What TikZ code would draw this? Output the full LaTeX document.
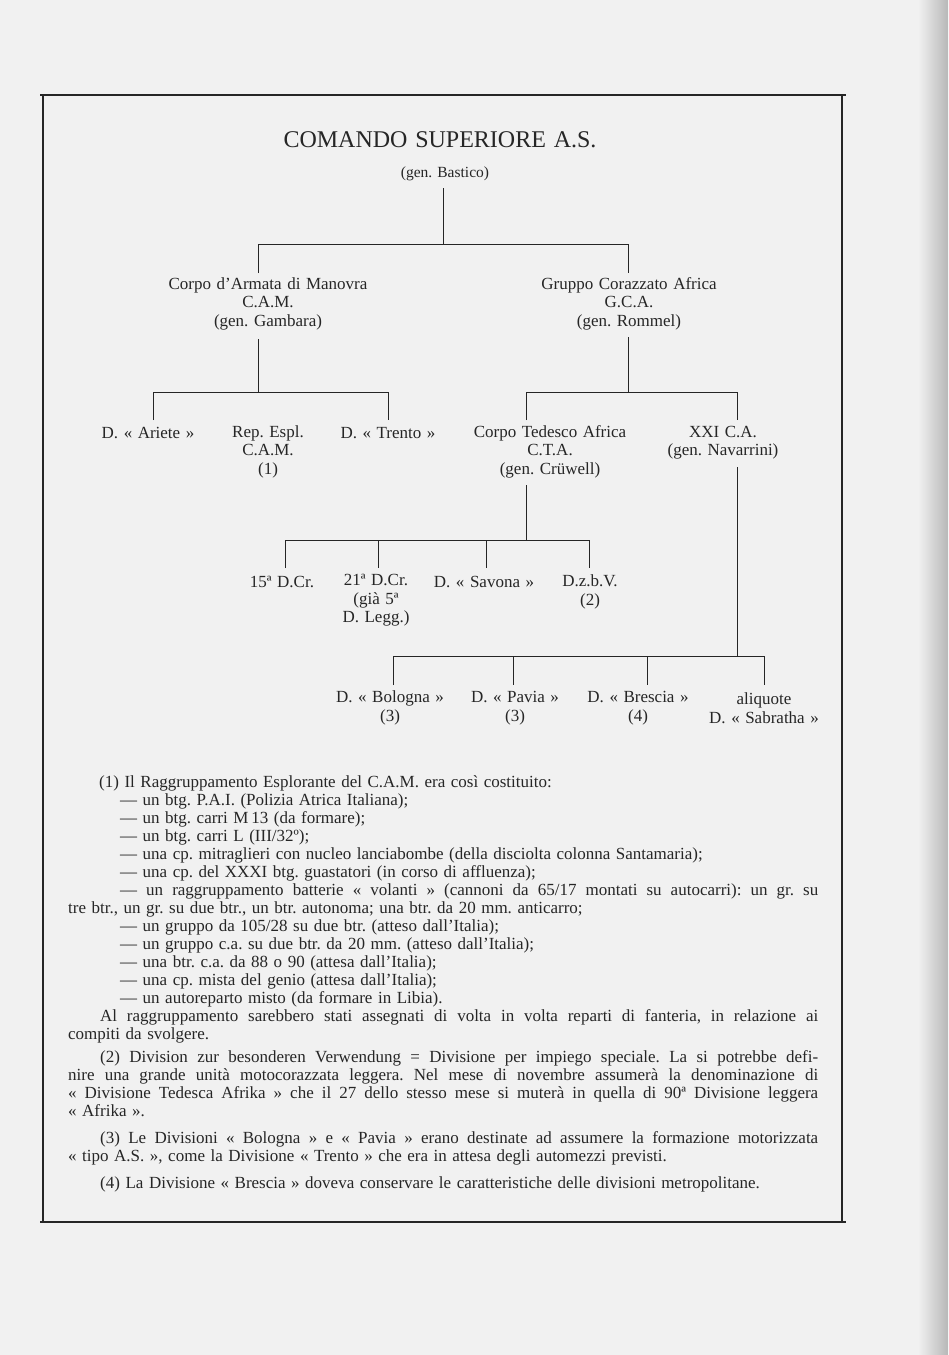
\documentclass[tikz,border=0pt]{standalone}
\usepackage{fontspec}
\setmainfont{Liberation Serif}[WordSpace={1.3,1.6,1.0}]
\definecolor{bg}{RGB}{241,241,241}
\definecolor{ink}{RGB}{38,38,38}
\newcommand\chartfont{\fontsize{17}{18.5}\selectfont}
\newcommand\notefont{\fontsize{17}{18}\selectfont}
\newcommand\titlefont{\fontsize{24}{26}\selectfont}
\newcommand\smallfont{\fontsize{15.5}{17}\selectfont}
\tolerance=10000
\hyphenpenalty=10000
\frenchspacing
\begin{document}
\begin{tikzpicture}[x=1pt,y=-1pt,
  lbl/.style={font=\chartfont, align=center, inner sep=0pt, text=ink},
  conn/.style={draw=ink, line width=0.95pt},
  framel/.style={draw=ink, line width=1.2pt},
  framet/.style={draw=ink, line width=1.7pt},
  note/.style={font=\notefont, text width=750pt, align=justify, inner sep=0pt, anchor=base west, text=ink}]
\useasboundingbox (0,0) rectangle (948,1355);
\fill[bg] (0,0) rectangle (948,1355);
\shade[left color=bg, right color=black!28] (918,0) rectangle (948,1355);

% frame
\coordinate (fTL) at (40,95);
\coordinate (fTR) at (846,95);
\coordinate (fBL) at (40,1222);
\coordinate (fBR) at (846,1222);
\coordinate (fL1) at (43,95);
\coordinate (fL2) at (43,1222);
\coordinate (fR1) at (842,95);
\coordinate (fR2) at (842,1222);
\draw[framet] (fTL) -- (fTR);
\draw[framet] (fBL) -- (fBR);
\draw[framel] (fL1) -- (fL2);
\draw[framel] (fR1) -- (fR2);

% nodes of the chart
\node[lbl, font=\titlefont] (title) at (440,140) {COMANDO SUPERIORE A.S.};
\node[lbl, font=\smallfont] (bastico) at (445,174) {(gen. Bastico)};
\node[lbl] (cam) at (268,303.5) {Corpo d’Armata di Manovra\\C.A.M.\\(gen. Gambara)};
\node[lbl] (gca) at (629,303.5) {Gruppo Corazzato Africa\\G.C.A.\\(gen. Rommel)};
\node[lbl] (ariete) at (148,433) {D. « Ariete »};
\node[lbl] (rep) at (268,451.5) {Rep. Espl.\\C.A.M.\\(1)};
\node[lbl] (trento) at (388,433) {D. « Trento »};
\node[lbl] (cta) at (550,451.5) {Corpo Tedesco Africa\\C.T.A.\\(gen. Crüwell)};
\node[lbl] (xxi) at (723,442.5) {XXI C.A.\\(gen. Navarrini)};
\node[lbl] (d15) at (282,582) {15ª D.Cr.};
\node[lbl] (d21) at (376,600.5) {21ª D.Cr.\\(già 5ª\\D. Legg.)};
\node[lbl] (savona) at (484,582) {D. « Savona »};
\node[lbl] (dzbv) at (590,592) {D.z.b.V.\\(2)};
\node[lbl] (bologna) at (390,708) {D. « Bologna »\\(3)};
\node[lbl] (pavia) at (515,708) {D. « Pavia »\\(3)};
\node[lbl] (brescia) at (638,708) {D. « Brescia »\\(4)};
\node[lbl] (sabratha) at (764,708) {aliquote\\D. « Sabratha »};

% connectors: level 0 -> 1
\coordinate (r0a) at (443,188);
\coordinate (r0b) at (443,244);
\coordinate (b0L) at (258,244);
\coordinate (b0R) at (628,244);
\coordinate (d0L) at (258,273);
\coordinate (d0R) at (628,273);
\draw[conn] (r0a) -- (r0b);
\draw[conn] (d0L) -- (b0L) -- (b0R) -- (d0R);

% level 1 -> 2 (C.A.M.)
\coordinate (r1a) at (258,339);
\coordinate (r1b) at (258,392);
\coordinate (b1L) at (153,392);
\coordinate (b1R) at (388,392);
\coordinate (d1L) at (153,420);
\coordinate (d1R) at (388,420);
\draw[conn] (r1a) -- (r1b);
\draw[conn] (d1L) -- (b1L) -- (b1R) -- (d1R);

% level 1 -> 2 (G.C.A.)
\coordinate (r2a) at (628,337);
\coordinate (r2b) at (628,392);
\coordinate (b2L) at (526,392);
\coordinate (b2R) at (737,392);
\coordinate (d2L) at (526,420);
\coordinate (d2R) at (737,420);
\draw[conn] (r2a) -- (r2b);
\draw[conn] (d2L) -- (b2L) -- (b2R) -- (d2R);

% C.T.A. -> divisions
\coordinate (r3a) at (526,485);
\coordinate (r3b) at (526,540);
\coordinate (b3L) at (285,540);
\coordinate (b3R) at (589,540);
\coordinate (d3a) at (285,568);
\coordinate (d3b) at (378,568);
\coordinate (d3c) at (486,568);
\coordinate (d3d) at (589,568);
\coordinate (b3b) at (378,540);
\coordinate (b3c) at (486,540);
\draw[conn] (r3a) -- (r3b);
\draw[conn] (d3a) -- (b3L) -- (b3R) -- (d3d);
\draw[conn] (b3b) -- (d3b);
\draw[conn] (b3c) -- (d3c);

% XXI C.A. -> divisions
\coordinate (r4a) at (737,467);
\coordinate (r4b) at (737,656);
\coordinate (b4L) at (393,656);
\coordinate (b4R) at (764,656);
\coordinate (d4a) at (393,685);
\coordinate (d4b) at (513,685);
\coordinate (d4c) at (647,685);
\coordinate (d4d) at (764,685);
\coordinate (b4b) at (513,656);
\coordinate (b4c) at (647,656);
\draw[conn] (r4a) -- (r4b);
\draw[conn] (d4a) -- (b4L) -- (b4R) -- (d4d);
\draw[conn] (b4b) -- (d4b);
\draw[conn] (b4c) -- (d4c);

% notes
\node[note] (note1) at (68,787.5) {%
\noindent\hspace*{31pt}(1) Il Raggruppamento Esplorante del C.A.M. era così costituito:\par
\noindent\hspace*{52pt}— un btg. P.A.I. (Polizia Atrica Italiana);\par
\noindent\hspace*{52pt}— un btg. carri M\,13 (da formare);\par
\noindent\hspace*{52pt}— un btg. carri L (III/32º);\par
\noindent\hspace*{52pt}— una cp. mitraglieri con nucleo lanciabombe (della disciolta colonna Santamaria);\par
\noindent\hspace*{52pt}— una cp. del XXXI btg. guastatori (in corso di affluenza);\par
\noindent\hspace*{52pt}— un raggruppamento batterie « volanti » (cannoni da 65/17 montati su autocarri): un gr. su\linebreak
tre btr., un gr. su due btr., un btr. autonoma; una btr. da 20 mm. anticarro;\par
\noindent\hspace*{52pt}— un gruppo da 105/28 su due btr. (atteso dall’Italia);\par
\noindent\hspace*{52pt}— un gruppo c.a. su due btr. da 20 mm. (atteso dall’Italia);\par
\noindent\hspace*{52pt}— una btr. c.a. da 88 o 90 (attesa dall’Italia);\par
\noindent\hspace*{52pt}— una cp. mista del genio (attesa dall’Italia);\par
\noindent\hspace*{52pt}— un autoreparto misto (da formare in Libia).\par
\noindent\hspace*{32pt}Al raggruppamento sarebbero stati assegnati di volta in volta reparti di fanteria, in relazione ai\linebreak
compiti da svolgere.};
\node[note] (note2) at (68,1062.5) {%
\noindent\hspace*{32pt}(2) Division zur besonderen Verwendung = Divisione per impiego speciale. La si potrebbe defi-\linebreak
nire una grande unità motocorazzata leggera. Nel mese di novembre assumerà la denominazione di\linebreak
« Divisione Tedesca Afrika » che il 27 dello stesso mese si muterà in quella di 90ª Divisione leggera\linebreak
« Afrika ».};
\node[note] (note3) at (68,1143.5) {%
\noindent\hspace*{32pt}(3) Le Divisioni « Bologna » e « Pavia » erano destinate ad assumere la formazione motorizzata\linebreak
« tipo A.S. », come la Divisione « Trento » che era in attesa degli automezzi previsti.};
\node[note] (note4) at (68,1188.5) {%
\noindent\hspace*{32pt}(4) La Divisione « Brescia » doveva conservare le caratteristiche delle divisioni metropolitane.};
\end{tikzpicture}
\end{document}
